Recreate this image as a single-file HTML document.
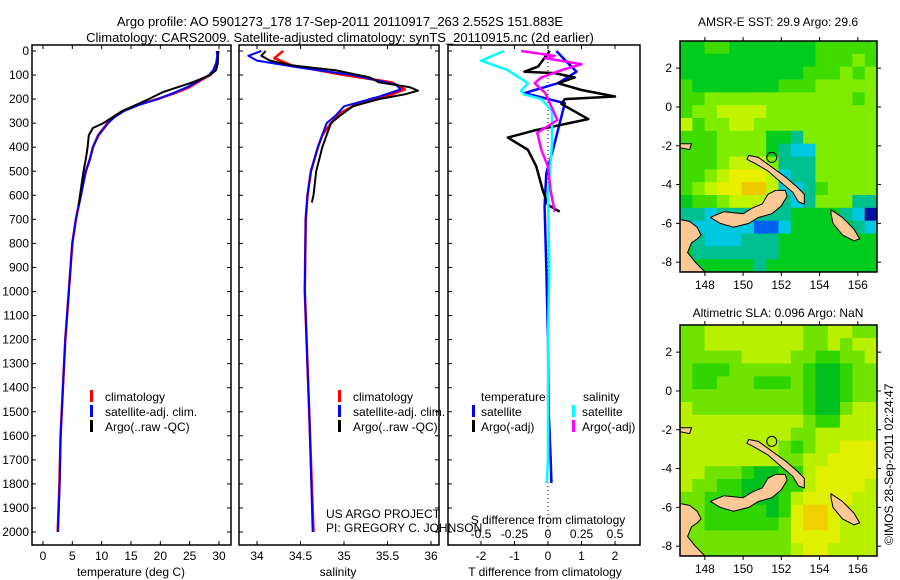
<!DOCTYPE html>
<html><head><meta charset="utf-8"><style>
body{margin:0;background:#fff}
svg{display:block;font-family:"Liberation Sans",sans-serif;font-size:12px}
</style></head><body>
<svg id="s" width="900" height="580" xmlns="http://www.w3.org/2000/svg">
<text x="340" y="26" text-anchor="middle" font-size="13">Argo profile: AO 5901273_178 17-Sep-2011 20110917_263 2.552S 151.883E</text>
<text x="340" y="42" text-anchor="middle" font-size="13">Climatology: CARS2009. Satellite-adjusted climatology: synTS_20110915.nc (2d earlier)</text>
<text x="778" y="26" text-anchor="middle">AMSR-E SST: 29.9 Argo: 29.6</text>
<text x="778" y="317" text-anchor="middle">Altimetric SLA: 0.096 Argo: NaN</text>
<text transform="translate(893,545) rotate(-90)">©IMOS 28-Sep-2011 02:24:47</text>
<g id="g"></g>
</svg>
<script>
// ---- data ----
const depthTicks=[0,100,200,300,400,500,600,700,800,900,1000,1100,1200,1300,1400,1500,1600,1700,1800,1900,2000];
const tempTicks=[0,5,10,15,20,25,30];
const salTicks=[34,34.5,35,35.5,36];
const tdiffTicks=[-2,-1,0,1,2];
const sdiffTicks=[-0.5,-0.25,0,0.25,0.5];
const climTd=[0,20,50,80,100,120,150,175,200,225,250,275,300,325,350,400,450,500,600,700,800,1000,1200,1400,1600,1800,2000];
const climT=[29.8,29.8,29.6,29.2,28.5,27,25,22.5,19.5,16,13.5,12,11,10.2,9.4,8.5,8,7.3,6.4,5.6,5.0,4.4,3.8,3.4,3.0,2.8,2.5];
const satT=[29.6,29.7,29.5,29.0,28.3,26.8,24.6,22.2,19.6,16.3,13.8,12.2,11.1,10.3,9.5,8.5,8,7.3,6.5,5.6,5.0,4.4,3.8,3.4,3.0,2.85,2.55];
const argoTd=[0,50,80,100,130,170,200,250,300,320,350,400,450,500,600,640];
const argoT=[29.9,29.8,29.5,28.5,25.5,20.5,18,13.5,10.3,8.5,7.8,7.6,7.3,6.9,6.3,6.1];
const climSd=[0,30,60,100,130,160,180,200,230,260,300,350,400,500,600,700,1000,1500,2000];
const climS=[34.3,34.2,34.4,35.0,35.55,35.7,35.55,35.3,35.1,34.95,34.85,34.75,34.7,34.62,34.58,34.56,34.55,34.6,34.65];
const satSd=[0,20,40,70,100,140,160,190,230,270,300,400,500,600,700,1000,1500,2000];
const satS=[34.05,33.9,34.0,34.5,35.1,35.6,35.65,35.4,35.0,34.9,34.8,34.7,34.62,34.58,34.56,34.55,34.6,34.64];
const argoSd=[0,20,40,60,80,110,130,150,165,180,200,230,270,300,350,400,500,600,630];
const argoS=[34.1,34.05,34.15,34.4,34.9,35.3,35.4,35.75,35.85,35.7,35.4,35.1,34.95,34.85,34.8,34.75,34.68,34.65,34.63];
const dTsatD=[0,37,86,134,175,217,273,328,411,508,647,900,1200,1500,1700,1796];
const dTsat=[0.25,0.5,0.85,0.3,-0.7,0.5,0.4,0.3,0.15,-0.05,-0.1,-0.05,0,0.02,0.08,0.1];
const dTargoD=[0,65,86,92,110,134,162,189,200,220,283,330,360,411,480,583,640,668];
const dTargo=[0.05,-0.3,-0.7,0.2,0.8,0.3,1.0,2.0,0.5,0.4,1.2,-0.4,-1.2,-0.6,-0.35,-0.15,0,0.35];
const dSsatD=[0,40,80,134,165,180,200,250,388,600,900,1200,1500,1700,1796];
const dSsat=[-0.33,-0.5,-0.3,-0.15,-0.2,-0.18,-0.05,0.03,0.03,0.0,0.01,0.0,0.0,0.0,-0.01];
const dSargoD=[0,20,30,55,80,110,134,175,225,287,340,411,480,583,668];
const dSargo=[-0.2,0.05,-0.02,0.25,0.1,-0.05,-0.1,-0.02,0.02,0.07,-0.08,-0.05,0.0,0.02,0.05];
const lonTicks=[148,150,152,154,156];
const latTicks=[2,0,-2,-4,-6,-8];
const sstGrid=["4455444444455555","4444444444455565","4444444444555656","5444444455566666","5566666666666656","5667777666666666","7566776666666666","5556666443666666","5556666432266666","5556777633366666","5567888723366666","5678899722356666","4556777432366633","3323333334444320","3222221124444432","3322233344444444","4333333344444444","4444443444444444"];
const slaGrid=["6677777777667766","6677777777667677","6666677776655667","6555666666544566","6556665556544566","6666666666544566","7666666666544677","7777777777655777","7777777776677777","7777777765677888","7777777766778888","7766654455788888","7665544455788887","6655544457888877","6655555458998777","6655555568998777","6666666668888777","6666666667887777"];
const newBritain=[[148.5,-5.6],[149,-5.4],[150,-5.5],[150.5,-5.2],[151,-5],[151.3,-4.5],[151.7,-4.3],[152.2,-4.3],[152.3,-4.6],[152,-5.1],[151.5,-5.5],[150.8,-5.7],[150.3,-6.0],[149.5,-6.2],[148.8,-6.0],[148.3,-5.7]];
const newIreland=[[150.3,-2.5],[150.8,-2.6],[151.5,-3.1],[152.2,-3.6],[152.8,-4.1],[153.2,-4.5],[153.2,-5],[152.9,-4.9],[152.6,-4.4],[152,-3.9],[151.3,-3.3],[150.6,-2.9],[150.2,-2.7]];
const bougainville=[[154.6,-5.3],[155.2,-5.7],[155.8,-6.3],[156.1,-6.8],[155.8,-6.9],[155.2,-6.6],[154.7,-6.0],[154.6,-5.5]];
const mainland=[[146.7,-5.8],[147.2,-5.9],[147.6,-6.2],[147.8,-6.6],[147.6,-6.8],[147.3,-7],[147.1,-7.5],[147.5,-8],[148,-8.5],[146.7,-8.5]];
const manus=[[146.7,-1.9],[147.3,-1.9],[147.2,-2.2],[146.7,-2.1]];

// ---- drawing ----
const NS="http://www.w3.org/2000/svg";
const G=document.getElementById('g');
function mk(t,a,p){const e=document.createElementNS(NS,t);for(const k in a)e.setAttribute(k,a[k]);(p||G).appendChild(e);return e;}
const yD=d=>51+d*0.2405;
function line(xs,ds,xf,col,w,name){
  const pts=xs.map((v,i)=>xf(v).toFixed(1)+','+yD(ds[i]).toFixed(1)).join(' ');
  const e=mk('polyline',{points:pts,fill:'none',stroke:col,'stroke-width':w,'stroke-linejoin':'round'});
  
  
}
function panel(x0,x1,name){
  const r=mk('rect',{x:x0,y:45,width:x1-x0,height:500,fill:'none',stroke:'#000','stroke-width':1.5});
  
  
}
function txt(x,y,s,anchor,name,size){
  const t=mk('text',{x:x,y:y,'text-anchor':anchor||'start'});
  if(size)t.setAttribute('font-size',size);
  t.textContent=s;
  
  
  return t;
}
// panel 1
const xT=v=>43+v*5.867;
panel(32,231,'temperature-panel');
depthTicks.forEach(d=>{mk('line',{x1:32,x2:36,y1:yD(d),y2:yD(d),stroke:'#000'});mk('line',{x1:227,x2:231,y1:yD(d),y2:yD(d),stroke:'#000'});txt(29,yD(d)+4,String(d),'end','depth-tick-label');});
tempTicks.forEach(v=>{mk('line',{x1:xT(v),x2:xT(v),y1:545,y2:541,stroke:'#000'});mk('line',{x1:xT(v),x2:xT(v),y1:45,y2:49,stroke:'#000'});txt(xT(v),560,String(v),'middle','temperature-tick-label');});
txt(131,576,'temperature (deg C)','middle','temperature-axis-title');
line(climT,climTd,xT,'#f00',2.5,'temperature-climatology-line');
line(satT,climTd,xT,'#00f',2,'temperature-satellite-line');
line(argoT,argoTd,xT,'#000',2,'temperature-argo-line');
// panel 2
const xS=v=>257+(v-34)*87;
panel(239,439,'salinity-panel');
depthTicks.forEach(d=>{mk('line',{x1:239,x2:243,y1:yD(d),y2:yD(d),stroke:'#000'});mk('line',{x1:435,x2:439,y1:yD(d),y2:yD(d),stroke:'#000'});});
salTicks.forEach(v=>{mk('line',{x1:xS(v),x2:xS(v),y1:545,y2:541,stroke:'#000'});mk('line',{x1:xS(v),x2:xS(v),y1:45,y2:49,stroke:'#000'});txt(xS(v),560,String(v),'middle','salinity-tick-label');});
txt(338,576,'salinity','middle','salinity-axis-title');
line(climS,climSd,xS,'#f00',2.5,'salinity-climatology-line');
line(satS,satSd,xS,'#00f',2,'salinity-satellite-line');
line(argoS,argoSd,xS,'#000',2,'salinity-argo-line');
txt(326,518,'US ARGO PROJECT','start','project-label');
txt(326,532,'PI: GREGORY C. JOHNSON','start','pi-label');
// legends
[[90,'climatology','#f00'],[90,'satellite-adj. clim.','#00f'],[90,'Argo(..raw -QC)','#000']].forEach((l,i)=>{
  [90,338].forEach(x=>{mk('rect',{x:x,y:390+i*15,width:3,height:12,fill:l[2]});txt(x+15,401+i*15,l[1],'start','legend-entry');});
});
// panel 3
const xTd=v=>548+v*33.5, xSd=v=>548+v*134;
panel(448,640,'difference-panel');
depthTicks.forEach(d=>{mk('line',{x1:448,x2:452,y1:yD(d),y2:yD(d),stroke:'#000'});});
tdiffTicks.forEach(v=>{mk('line',{x1:xTd(v),x2:xTd(v),y1:545,y2:541,stroke:'#000'});txt(xTd(v),560,String(v),'middle','tdiff-tick-label');});
sdiffTicks.forEach(v=>{mk('line',{x1:xSd(v),x2:xSd(v),y1:45,y2:49,stroke:'#000'});txt(xSd(v),538,String(v),'middle','sdiff-tick-label');});
txt(548,524,'S difference from climatology','middle','sdiff-axis-title');
txt(545,576,'T difference from climatology','middle','tdiff-axis-title');
mk('line',{x1:548,x2:548,y1:50,y2:535,stroke:'#000','stroke-dasharray':'1,3'});
line(dTsat,dTsatD,xTd,'#00f',2.5,'tdiff-satellite-line');
line(dTargo,dTargoD,xTd,'#000',2.5,'tdiff-argo-line');
line(dSsat,dSsatD,xSd,'#0ff',2.5,'sdiff-satellite-line');
line(dSargo,dSargoD,xSd,'#f0f',2.5,'sdiff-argo-line');
txt(481,401,'temperature','start','legend-temperature-heading');
txt(583,401,'salinity','start','legend-salinity-heading');
[['satellite','#00f','#0ff'],['Argo(-adj)','#000','#f0f']].forEach((l,i)=>{
  mk('rect',{x:472,y:405+i*15,width:3,height:12,fill:l[1]});txt(481,416+i*15,l[0],'start','legend-entry');
  mk('rect',{x:572,y:405+i*15,width:3,height:12,fill:l[2]});txt(582,416+i*15,l[0],'start','legend-entry');
});
// maps
const pal={0:'#0010a0',1:'#0060f0',2:'#00c8e0',3:'#00c090',4:'#00cc20',5:'#40dc00',6:'#80ec00',7:'#c0f400',8:'#e8f000',9:'#f0c800'};
const slaPal={4:'#00c020',5:'#30d400',6:'#70e400',7:'#b8f000',8:'#e0f000',9:'#f0d000'};
function map(y0,grid,p,name){
  const x0=680,w=197,h=231;
  const g=mk('g',{});
  
  
  const lx=v=>x0+(v-146.7)*19.12, ly=v=>y0+(3.4-v)*19.4;
  const rows=grid.length, cols=grid[0].length, cw=w/cols, ch=h/rows;
  grid.forEach((row,r)=>{for(let c=0;c<cols;c++){mk('rect',{x:(x0+c*cw).toFixed(2),y:(y0+r*ch).toFixed(2),width:(cw+0.5).toFixed(2),height:(ch+0.5).toFixed(2),fill:p[row[c]]},g);}});
  [newBritain,newIreland,bougainville,mainland,manus].forEach(poly=>{
    mk('polygon',{points:poly.map(q=>lx(q[0]).toFixed(1)+','+ly(q[1]).toFixed(1)).join(' '),fill:'#fcc896',stroke:'#000','stroke-width':1},g);
  });
  mk('circle',{cx:lx(151.5),cy:ly(-2.6),r:5,fill:'none',stroke:'#000'},g);
  mk('rect',{x:x0,y:y0,width:w,height:h,fill:'none',stroke:'#000','stroke-width':1.5},g);
  lonTicks.forEach(v=>{mk('line',{x1:lx(v),x2:lx(v),y1:y0,y2:y0-4,stroke:'#000'},g);mk('line',{x1:lx(v),x2:lx(v),y1:y0+h,y2:y0+h+4,stroke:'#000'},g);const t=txt(lx(v),y0+h+17,String(v),'middle','longitude-tick-label');g.appendChild(t);});
  latTicks.forEach(v=>{mk('line',{x1:x0,x2:x0-4,y1:ly(v),y2:ly(v),stroke:'#000'},g);mk('line',{x1:x0+w,x2:x0+w+4,y1:ly(v),y2:ly(v),stroke:'#000'},g);const t=txt(x0-8,ly(v)+4,String(v),'end','latitude-tick-label');g.appendChild(t);});
}
map(41,sstGrid,pal,'sst-map');
map(325,slaGrid,slaPal,'sla-map');
</script>
</body></html>
